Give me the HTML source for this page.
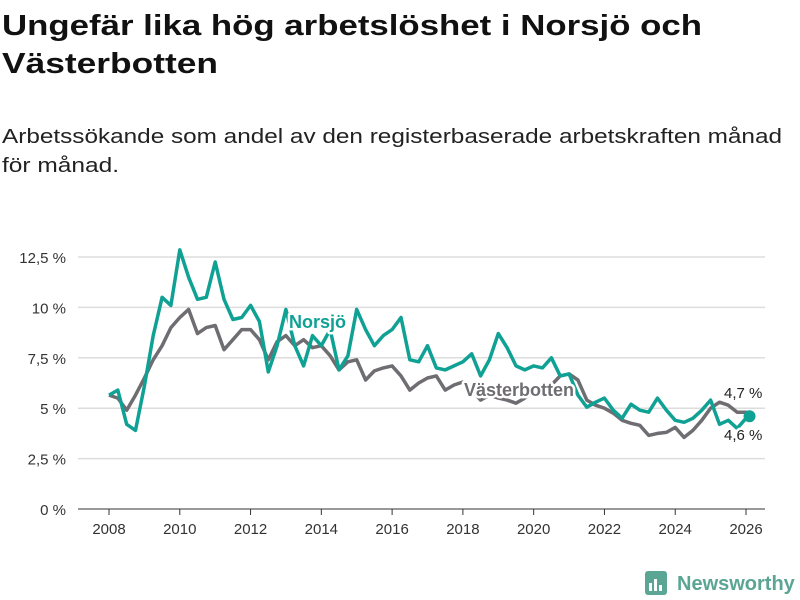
<!DOCTYPE html>
<html><head><meta charset="utf-8"><style>
html,body{margin:0;padding:0;background:#fff;width:800px;height:600px;overflow:hidden}
svg{display:block;font-family:"Liberation Sans",sans-serif}
</style></head><body>
<svg id="chart" width="800" height="600" viewBox="0 0 800 600">
<text x="2" y="35" font-size="29" font-weight="bold" fill="#111" textLength="700" lengthAdjust="spacingAndGlyphs">Ungefär lika hög arbetslöshet i Norsjö och</text>
<text x="2" y="73" font-size="29" font-weight="bold" fill="#111" textLength="216" lengthAdjust="spacingAndGlyphs">Västerbotten</text>
<text x="2" y="143" font-size="20" fill="#222" textLength="780" lengthAdjust="spacingAndGlyphs">Arbetssökande som andel av den registerbaserade arbetskraften månad</text>
<text x="2" y="172" font-size="20" fill="#222" textLength="117" lengthAdjust="spacingAndGlyphs">för månad.</text>
<g id="grid"></g>
<g id="yaxis"></g>
<g id="xaxis"></g>
<g id="series"></g>
<g id="labels"></g>
<g>
<rect x="645" y="571" width="22" height="24" rx="3" fill="#5aa594"/>
<rect x="649" y="583" width="3" height="8" fill="#fff"/><rect x="654" y="579" width="3" height="12" fill="#fff"/><rect x="659" y="585" width="3" height="6" fill="#fff"/>
<text x="677" y="590" font-size="20" font-weight="bold" fill="#5aa594">Newsworthy</text>
</g>
</svg>
<script>
const yTicks=[0,2.5,5,7.5,10,12.5];
const yTickLabels=["0 %","2,5 %","5 %","7,5 %","10 %","12,5 %"];
const xTicks=[2008,2010,2012,2014,2016,2018,2020,2022,2024,2026];
const times=[2008,2008.25,2008.5,2008.75,2009,2009.25,2009.5,2009.75,2010,2010.25,2010.5,2010.75,2011,2011.25,2011.5,2011.75,2012,2012.25,2012.5,2012.75,2013,2013.25,2013.5,2013.75,2014,2014.25,2014.5,2014.75,2015,2015.25,2015.5,2015.75,2016,2016.25,2016.5,2016.75,2017,2017.25,2017.5,2017.75,2018,2018.25,2018.5,2018.75,2019,2019.25,2019.5,2019.75,2020,2020.25,2020.5,2020.75,2021,2021.25,2021.5,2021.75,2022,2022.25,2022.5,2022.75,2023,2023.25,2023.5,2023.75,2024,2024.25,2024.5,2024.75,2025,2025.25,2025.5,2025.75,2026,2026.1];
const norsjo=[5.65,5.9,4.2,3.9,6.1,8.6,10.5,10.1,12.85,11.5,10.4,10.5,12.25,10.4,9.4,9.5,10.1,9.3,6.8,8.1,9.9,8.1,7.1,8.6,8.1,8.9,6.9,7.6,9.9,8.9,8.1,8.6,8.9,9.5,7.4,7.3,8.1,7.0,6.9,7.1,7.3,7.7,6.6,7.4,8.7,8.0,7.1,6.9,7.1,7.0,7.5,6.6,6.7,5.65,5.05,5.3,5.5,4.9,4.5,5.2,4.9,4.8,5.5,4.9,4.4,4.3,4.5,4.9,5.4,4.2,4.4,4.0,4.5,4.6];
const vasterbotten=[5.65,5.5,4.9,5.65,6.5,7.4,8.1,9.0,9.5,9.9,8.7,9.0,9.1,7.9,8.4,8.9,8.9,8.4,7.4,8.3,8.6,8.1,8.4,8.0,8.1,7.6,6.9,7.3,7.4,6.4,6.85,7.0,7.1,6.6,5.9,6.25,6.5,6.6,5.9,6.15,6.3,5.9,5.4,5.65,5.5,5.4,5.25,5.5,5.8,6.0,6.15,6.6,6.7,6.4,5.4,5.15,5.0,4.75,4.4,4.25,4.15,3.65,3.75,3.8,4.05,3.55,3.9,4.4,5.0,5.3,5.15,4.8,4.8,4.75];
const NS="http://www.w3.org/2000/svg";
const X=t=>109+(t-2008)*(746-109)/18;
const Y=v=>509-v*(509-257)/12.5;
function mk(tag,attrs,parent){const e=document.createElementNS(NS,tag);for(const k in attrs)e.setAttribute(k,attrs[k]);parent.appendChild(e);return e;}
const grid=document.getElementById('grid'),ya=document.getElementById('yaxis'),xa=document.getElementById('xaxis'),ser=document.getElementById('series'),lab=document.getElementById('labels');
yTicks.forEach((v,i)=>{
  const l=mk('line',{x1:78,x2:765,y1:Y(v),y2:Y(v),stroke:v===0?'#333':'#ddd','stroke-width':v===0?1:1.5},grid);
  
  
  const t=mk('text',{x:66,y:Y(v)+6,'text-anchor':'end','font-size':15,fill:'#333'},ya);
  t.textContent=yTickLabels[i];
  
  
});
xTicks.forEach(yr=>{
  const l=mk('line',{x1:X(yr),x2:X(yr),y1:509,y2:515,stroke:'#333'},xa);
  
  
  const t=mk('text',{x:X(yr),y:534,'text-anchor':'middle','font-size':15,fill:'#333'},xa);
  t.textContent=yr;
  
  
});
function path(vals){return vals.map((v,i)=>(i?'L':'M')+X(times[i]).toFixed(1)+','+Y(v).toFixed(1)).join('');}
const pg=mk('path',{d:path(vasterbotten),fill:'none',stroke:'#6f6d72','stroke-width':3.5,'stroke-linejoin':'round'},ser);


const pt=mk('path',{d:path(norsjo),fill:'none',stroke:'#10a195','stroke-width':3.5,'stroke-linejoin':'round'},ser);


const n=times.length-1;
const dot=mk('circle',{cx:X(times[n]),cy:Y(norsjo[n]),r:6,fill:'#10a195'},ser);


function label(txt,x,y,fill,size,bold,name){
  const h=mk('text',{x:x,y:y,'font-size':size,'font-weight':bold?'bold':'normal',fill:'none',stroke:'#fff','stroke-width':5,'stroke-linejoin':'round'},lab);
  h.textContent=txt;
  
  
  const t=mk('text',{x:x,y:y,'font-size':size,'font-weight':bold?'bold':'normal',fill:fill},lab);
  t.textContent=txt;
  
  
}
label('Norsjö',289,328,'#10a195',18,true,'norsjo-label');
label('Västerbotten',464,396,'#6f6d72',18,true,'vasterbotten-label');
label('4,7 %',724,398,'#222',15,false,'vasterbotten-value-label');
label('4,6 %',724,440,'#222',15,false,'norsjo-value-label');
</script>
</body></html>
